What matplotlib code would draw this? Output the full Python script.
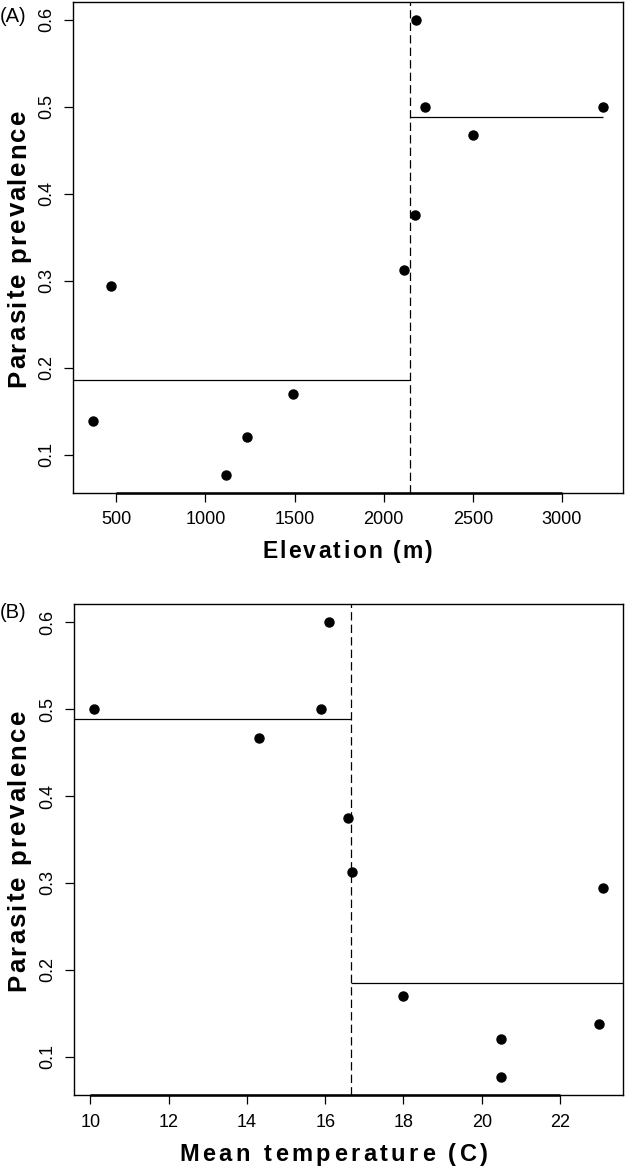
import numpy as np
import matplotlib
matplotlib.use('Agg')
import matplotlib.pyplot as plt
from matplotlib.font_manager import FontProperties, findfont
from matplotlib.ft2font import FT2Font

# site data
elevation = [471, 2182, 2233, 3228, 2502, 2177, 2112, 370, 1117, 1235, 1491]
temperature = [23.09, 16.09, 15.9, 10.09, 14.3, 16.59, 16.69, 22.99, 20.49, 20.49, 18.0]
prevalence = [0.294, 0.6, 0.5, 0.5, 0.467, 0.375, 0.3125, 0.138, 0.077, 0.12, 0.17]
elev_split = 2145
temp_split = 16.65
elev_ticks = [500, 1000, 1500, 2000, 2500, 3000]
temp_ticks = [10, 12, 14, 16, 18, 20, 22]
prev_ticks = [0.1, 0.2, 0.3, 0.4, 0.5, 0.6]

plt.rcParams['font.family'] = ['Liberation Sans', 'DejaVu Sans']
plt.rcParams['lines.scale_dashes'] = False

W, H = 625, 1169
fig = plt.figure(figsize=(W / 100, H / 100), dpi=100)


def r_lim(v):
    # R style 4% padding
    lo, hi = min(v), max(v)
    d = 0.04 * (hi - lo)
    return lo - d, hi + d


def spaced(s, x0, y0, length, size, vertical=False):
    # bold label drawn letter by letter, stretched to length px (R output is loosely tracked)
    fp = FontProperties(family='Liberation Sans', weight='bold', size=size)
    ft = FT2Font(findfont(fp))
    ft.set_size(size, fig.dpi)
    adv = [ft.load_char(ord(c)).linearHoriAdvance / 65536 for c in s]
    gap = (length - sum(adv)) / (len(s) - 1)
    pos = 0
    for c, a in zip(s, adv):
        if c != ' ':
            mid = pos + a / 2
            if vertical:
                fig.text(x0 / W, 1 - (y0 - mid) / H, c, rotation=90, rotation_mode='anchor',
                         ha='center', va='baseline', fontproperties=fp)
            else:
                fig.text((x0 + mid) / W, 1 - y0 / H, c, ha='center', va='baseline', fontproperties=fp)
        pos += a + gap


def panel(rect, x, xticks, split):
    ax = fig.add_axes(rect)
    xlim = r_lim(x)
    ylim = r_lim(prevalence)
    ax.plot(x, prevalence, 'o', color='black', ms=6.5, zorder=3)
    ax.set_xlim(xlim)
    ax.set_ylim(ylim)
    ax.axvline(split, color='black', lw=0.9, dashes=(6, 3))
    ax.set_xticks(xticks)
    ax.set_xticklabels([str(t) for t in xticks])
    ax.set_yticks(prev_ticks)
    ax.set_yticklabels([f'{t:.1f}' for t in prev_ticks])
    ax.tick_params(direction='out', length=6.5, width=0.9, labelsize=13, colors='black')
    ax.tick_params(axis='x', pad=7)
    ax.tick_params(axis='y', pad=6, labelrotation=90)
    for lab in ax.get_yticklabels():
        lab.set_va('center')
    for sp in ax.spines.values():
        sp.set_linewidth(1.0)
    # R axis line from first to last tick
    ax.plot([xticks[0], xticks[-1]], [ylim[0], ylim[0]], color='black', lw=1.8,
            clip_on=False, solid_capstyle='butt')
    x = np.array(x)
    p = np.array(prevalence)
    low = p[x < split].mean()
    high = p[x > split].mean()
    return ax, xlim, low, high


# (A) elevation
ax1, xl1, lo1, hi1 = panel([72.7 / W, 1 - 492.7 / H, (623 - 72.7) / W, 491 / H],
                           elevation, elev_ticks, elev_split)
ax1.hlines(lo1, xl1[0], elev_split, color='black', lw=0.9)
ax1.hlines(hi1, elev_split, max(elevation), color='black', lw=0.9)
fig.text(0, 1 - 16.5 / H, '(A)', fontsize=14.5, ha='left', va='center')
spaced('Parasite prevalence', 25, 387, 277, 18.5, vertical=True)
spaced('Elevation (m)', 262, 558, 171, 16.5)

# (B) temperature
ax2, xl2, lo2, hi2 = panel([73.6 / W, 1 - 1095 / H, (623 - 73.6) / W, 491 / H],
                           temperature, temp_ticks, temp_split)
ax2.hlines(lo2, xl2[0], temp_split, color='black', lw=0.9)
ax2.hlines(hi2, temp_split, xl2[1], color='black', lw=0.9)
fig.text(0, 1 - 613 / H, '(B)', fontsize=14.5, ha='left', va='center')
spaced('Parasite prevalence', 25, 991, 281, 18.5, vertical=True)
spaced('Mean temperature (C)', 179, 1161, 309, 17)

fig.savefig('out.png', dpi=100)
